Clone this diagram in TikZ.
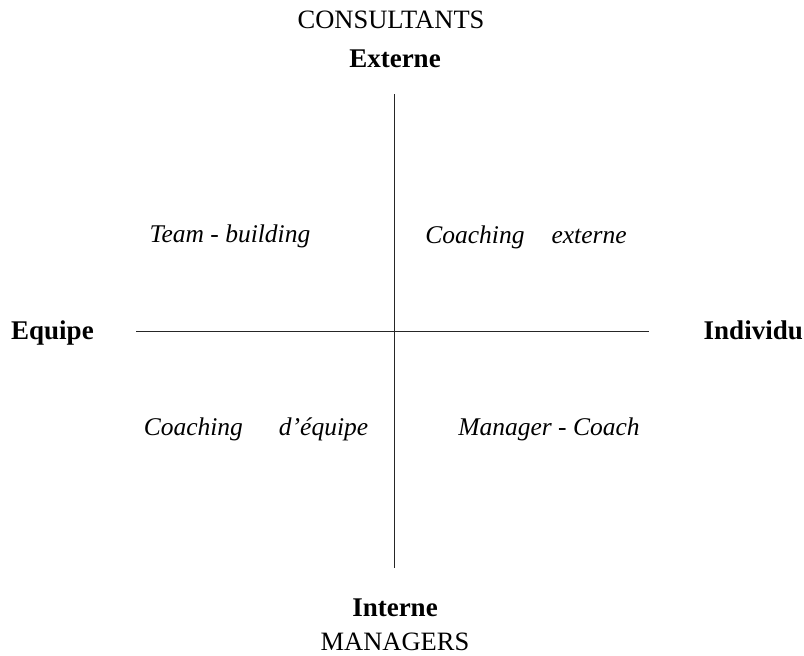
\documentclass[tikz,border=0pt]{standalone}
\usepackage{fontspec}
\setmainfont{Liberation Serif}
\begin{document}
\begin{tikzpicture}[x=1pt,y=-1pt,
  axis/.style={line width=1pt, draw=black!85},
  caps/.style={font=\fontsize{26.5}{30}\selectfont, inner sep=0pt, anchor=base},
  pole/.style={font=\fontsize{27}{30}\selectfont\bfseries, inner sep=0pt, anchor=base},
  quad/.style={font=\fontsize{25.5}{30}\selectfont\itshape, inner sep=0pt, anchor=base}]
\useasboundingbox (0,0) rectangle (804,656);
\node[caps] (cons) at (391,28) {CONSULTANTS};
\node[pole] (ext) at (395,67) {Externe};
\node[pole] (int) at (395,616) {Interne};
\node[caps] (man) at (395,650) {MANAGERS};
\node[pole, anchor=base west] (eq) at (11,339) {Equipe};
\node[pole, anchor=base east] (ind) at (803,339) {Individu};
\coordinate (vt) at (394,94);
\coordinate (vb) at (394,568);
\coordinate (hl) at (136,331);
\coordinate (hr) at (649,331);
\draw[axis] (vt) -- (vb);
\draw[axis] (hl) -- (hr);
\node[quad] (tb) at (230,242) {Team - building};
\node[quad] (ce) at (526,243) {Coaching\hspace{27pt}externe};
\node[quad] (cd) at (256,435) {Coaching\hspace{36pt}d'équipe};
\node[quad] (mc) at (549,435) {Manager - Coach};
\end{tikzpicture}
\end{document}
